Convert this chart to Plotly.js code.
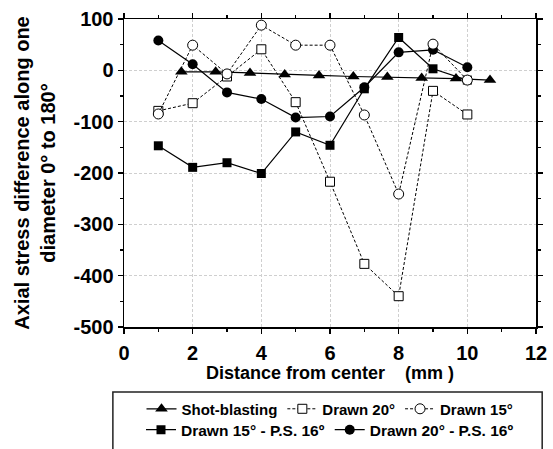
<!DOCTYPE html>
<html>
<head>
<meta charset="utf-8">
<script src="https://cdn.plot.ly/plotly-3.0.1.min.js"></script>
<style>html,body{margin:0;padding:0;background:#fff;}#chart{width:553px;height:449px;}</style>
</head>
<body>
<div id="chart"></div>
<script>
// Data
var shotX = [1.67, 2.67, 3.67, 4.68, 5.68, 6.68, 7.67, 8.67, 9.67, 10.66];
var shotY = [-3, -3, -5, -8, -10, -12, -13, -15, -16, -19];
var distX = [1, 2, 3, 4, 5, 6, 7, 8, 9, 10];
var drawn20Y = [-79, -64, -12, 41, -62, -217, -377, -440, -40, -86];
var drawn15Y = [-85, 49, -7, 88, 49, 49, -87, -241, 51, -19];
var drawn15psY = [-147, -189, -180, -201, -120, -146, -36, 64, 3, -19];
var drawn20psY = [58, 12, -43, -56, -92, -90, -33, 35, 40, 6];
var names = ["Shot-blasting", "Drawn 20°", "Drawn 15°", "Drawn 15° - P.S. 16º", "Drawn 20° - P.S. 16º"];
var yTickVals = [100, 0, -100, -200, -300, -400, -500];
var yTickText = ["100", "0", "-100", "-200", "-300", "-400", "-500"];

var solid = {color: "#000", width: 1.2};
var dashed = {color: "#000", width: 1, dash: "3px,2px"};

var traces = [
  {x: distX, y: drawn15psY, name: names[3], mode: "lines+markers", line: solid,
   marker: {symbol: "square", size: 9, color: "#000"}, legend: "legend2"},
  {x: distX, y: drawn20psY, name: names[4], mode: "lines+markers", line: solid,
   marker: {symbol: "circle", size: 10, color: "#000"}, legend: "legend2"},
  {x: shotX, y: shotY, name: names[0], mode: "lines+markers", line: solid,
   marker: {symbol: "triangle-up", size: 11, color: "#000"}, legend: "legend", legendrank: 1},
  {x: distX, y: drawn20Y, name: names[1], mode: "lines+markers", line: dashed,
   marker: {symbol: "square", size: 9, color: "#fff", line: {color: "#000", width: 1}}, legend: "legend", legendrank: 2},
  {x: distX, y: drawn15Y, name: names[2], mode: "lines+markers", line: dashed,
   marker: {symbol: "circle", size: 10, color: "#fff", line: {color: "#000", width: 1}}, legend: "legend", legendrank: 3}
];

var font = {family: "Liberation Sans, Arial, sans-serif", color: "#000", weight: "bold"};
function f(size) { return Object.assign({}, font, {size: size}); }

var layout = {
  width: 553, height: 449,
  margin: {l: 124, r: 17, t: 19, b: 122},
  paper_bgcolor: "#fff", plot_bgcolor: "#fff",
  font: f(15),
  xaxis: {
    range: [0, 12], dtick: 2, tick0: 0, automargin: false,
    showline: true, linecolor: "#000", linewidth: 1.5, mirror: "ticks",
    ticks: "outside", ticklen: 5, tickwidth: 1.2, tickcolor: "#000",
    minor: {dtick: 1, ticks: "outside", ticklen: 3, tickcolor: "#000", showgrid: false},
    showgrid: true, gridcolor: "#cfcfcf", griddash: "3px,2px", gridwidth: 1,
    zeroline: false, tickfont: f(20), ticklabelstandoff: 2,
    title: {text: "Distance from center\u00a0\u00a0\u00a0 (mm )", font: f(18), standoff: 4}
  },
  yaxis: {
    range: [-500, 100], tickvals: yTickVals, ticktext: yTickText, automargin: false,
    showline: true, linecolor: "#000", linewidth: 1.5, mirror: "ticks",
    ticks: "outside", ticklen: 5, tickwidth: 1.2, tickcolor: "#000",
    minor: {dtick: 50, ticks: "outside", ticklen: 3, tickcolor: "#000", showgrid: false},
    showgrid: true, gridcolor: "#cfcfcf", griddash: "3px,2px", gridwidth: 1,
    zeroline: false, tickfont: f(20),
    title: {text: "Axial stress difference along one<br>diameter 0° to 180°", font: f(20), standoff: 12}
  },
  legend: {
    orientation: "h", xref: "paper", yref: "container", x: 0.5, xanchor: "center", y: 0.089, yanchor: "middle",
    font: f(15), bgcolor: "rgba(0,0,0,0)", borderwidth: 0
  },
  legend2: {
    orientation: "h", xref: "paper", yref: "container", x: 0.5, xanchor: "center", y: 0.042, yanchor: "middle",
    font: f(15.5), bgcolor: "rgba(0,0,0,0)", borderwidth: 0
  },
  shapes: [
    {type: "rect", xref: "paper", yref: "paper", x0: -0.027, x1: 1.015, y0: -0.45, y1: -0.211,
     line: {color: "#222", width: 1.5}, fillcolor: "rgba(0,0,0,0)", layer: "below"}
  ],
  showlegend: true
};

Plotly.newPlot("chart", traces, layout, {staticPlot: true, displayModeBar: false});
</script>
</body>
</html>
